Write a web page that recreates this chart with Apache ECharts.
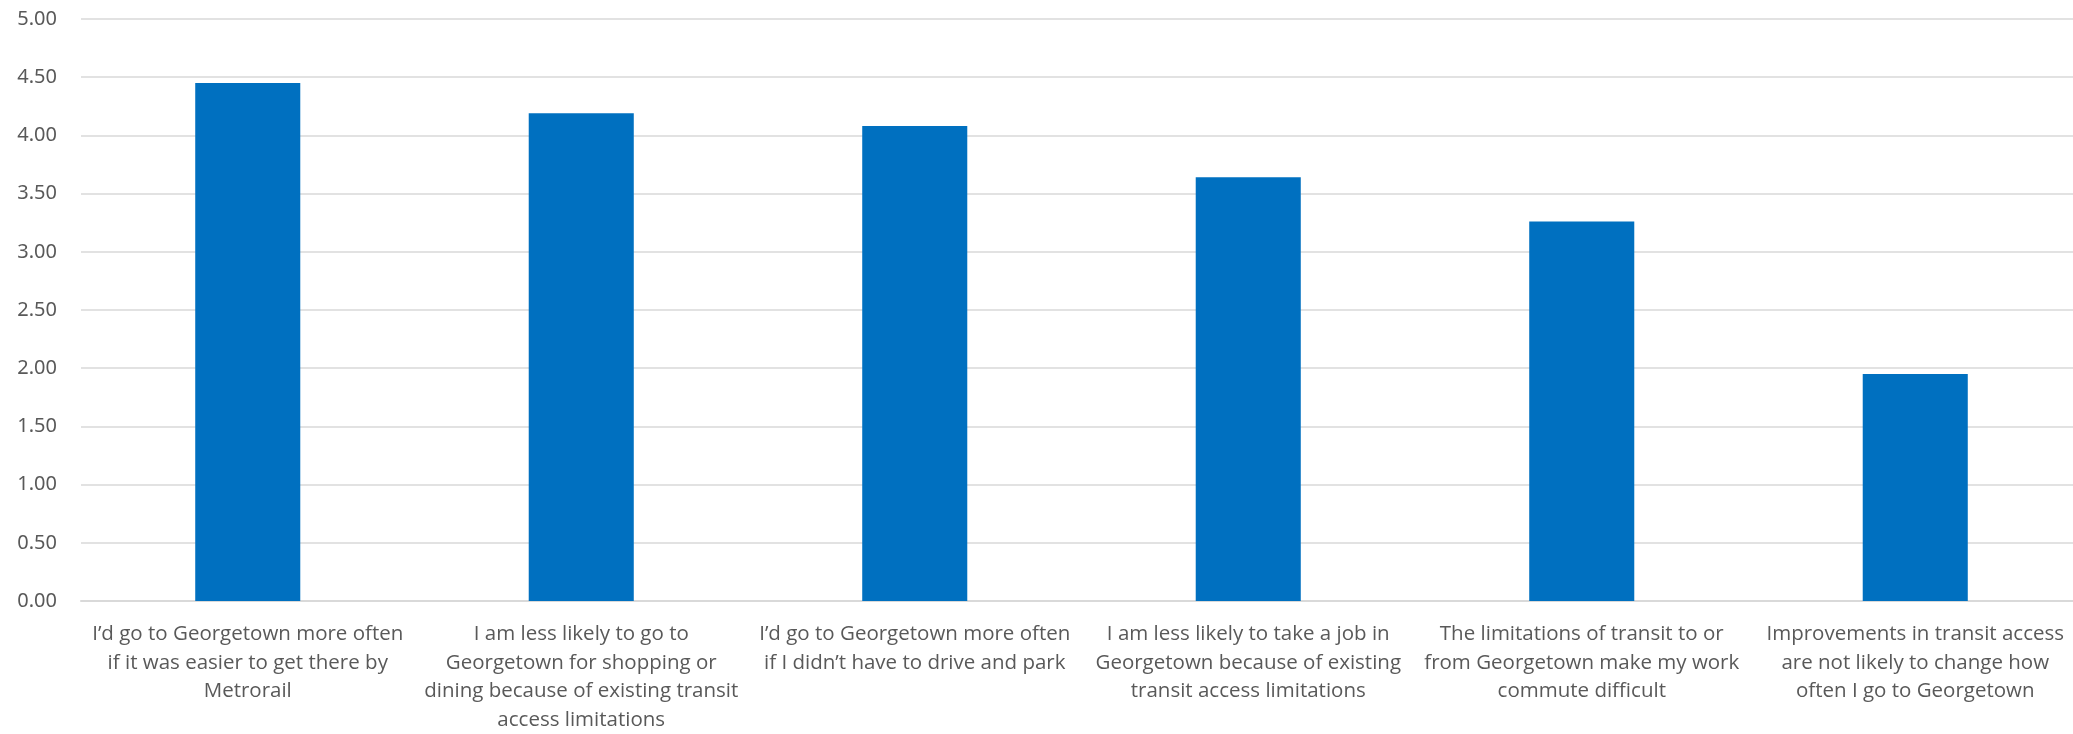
<!DOCTYPE html>
<html>
<head>
<meta charset="utf-8">
<style>
  html, body { margin: 0; padding: 0; background: #ffffff; overflow: hidden; }
  #chart { width: 2082px; height: 734px; }
</style>
<script src="https://cdn.jsdelivr.net/npm/echarts@6/dist/echarts.min.js"></script>
</head>
<body>
<div id="chart"></div>
<script>
const categories = [
  "I’d go to Georgetown more often\nif it was easier to get there by\nMetrorail",
  "I am less likely to go to\nGeorgetown for shopping or\ndining because of existing transit\naccess limitations",
  "I’d go to Georgetown more often\nif I didn’t have to drive and park",
  "I am less likely to take a job in\nGeorgetown because of existing\ntransit access limitations",
  "The limitations of transit to or\nfrom Georgetown make my work\ncommute difficult",
  "Improvements in transit access\nare not likely to change how\noften I go to Georgetown"
];
const values = [4.45, 4.19, 4.08, 3.64, 3.26, 1.95];
const yMin = 0, yMax = 5, yInterval = 0.5;

const chart = echarts.init(document.getElementById('chart'));
chart.setOption({
  animation: false,
  backgroundColor: '#ffffff',
  grid: { left: 81, right: 0, top: 19, bottom: 130, containLabel: false },
  xAxis: {
    type: 'category',
    data: categories,
    axisLine: { show: true, lineStyle: { color: '#d9d9d9', width: 2 } },
    axisTick: { show: false },
    axisLabel: {
      interval: 0,
      margin: 19,
      color: '#595959',
      fontFamily: 'Open Sans',
      fontSize: 20.5,
      lineHeight: 28.5,
      align: 'center'
    }
  },
  yAxis: {
    type: 'value',
    min: yMin, max: yMax, interval: yInterval,
    axisLine: { show: false },
    axisTick: { show: false },
    splitLine: { lineStyle: { color: '#d9d9d9', width: 1.5 } },
    axisLabel: {
      margin: 24,
      color: '#595959',
      fontFamily: 'Noto Sans',
      fontSize: 20,
      formatter: v => v.toFixed(2)
    }
  },
  series: [{
    type: 'bar',
    data: values,
    barWidth: '31.5%',
    itemStyle: { color: '#0070C0' }
  }]
});
</script>
</body>
</html>
